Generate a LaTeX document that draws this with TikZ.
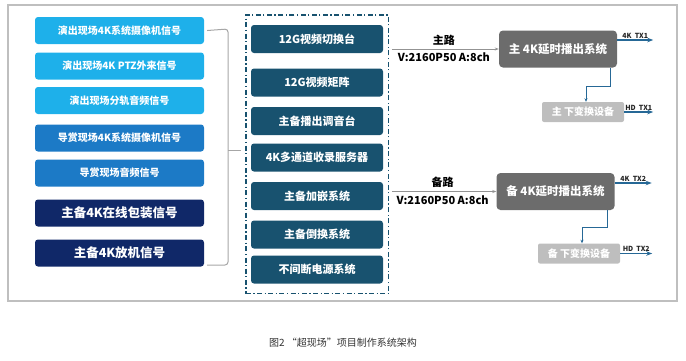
\documentclass[tikz,border=0pt]{standalone}
\usepackage{fontspec}
\setmainfont{Noto Sans CJK SC}
\usetikzlibrary{arrows.meta,positioning,fit}
\definecolor{srclight}{RGB}{30,176,234}
\definecolor{srcmid}{RGB}{28,122,198}
\definecolor{srcdark}{RGB}{16,40,104}
\definecolor{devcolor}{RGB}{24,82,111}
\definecolor{delaygray}{RGB}{108,108,108}
\definecolor{convgray}{RGB}{190,190,190}
\definecolor{linkblue}{RGB}{38,104,150}

\begin{document}
\begin{tikzpicture}[
			x=1pt,y=-1pt,
			srcbox/.style={
				rounded corners=3pt,
				text=white,
				align=center,
				minimum width=169pt,
				minimum height=27pt,
				inner sep=2pt,
				font=\bfseries\fontsize{10}{12}\selectfont
			},
			devbox/.style={
				fill=devcolor,
				rounded corners=3pt,
				text=white,
				minimum width=132pt,
				minimum height=28pt,
				inner sep=2pt,
				font=\bfseries\fontsize{11}{13}\selectfont
			},
			delaybox/.style={
				fill=delaygray,
				rounded corners=4pt,
				text=white,
				minimum width=118pt,
				minimum height=37pt,
				font=\bfseries\fontsize{11.5}{13}\selectfont
			},
			convbox/.style={
				fill=convgray,
				rounded corners=2pt,
				text=white,
				minimum width=82pt,
				minimum height=20pt,
				inner sep=1pt,
				font=\bfseries\fontsize{10}{12}\selectfont
			},
			feedarrow/.style={
				-{Stealth[length=4pt,width=3pt]},
				draw=gray!85,
				line width=0.9pt
			},
			outarrow/.style={
				-{Stealth[length=6pt,width=4.5pt]},
				draw=linkblue,
				line width=1.3pt
			},
			txlabel/.style={
				font=\bfseries\fontsize{7}{8}\selectfont,
				inner sep=1pt,
				text=black!85
			}
			]
			
			% Outer frame
			\useasboundingbox (0,0) rectangle (686,360);
			\draw[gray!50,line width=1.2pt] (8,5) rectangle (677,301);
			
			% Signal sources
			\node[srcbox,fill=srclight] (s1) at (119.5,30.5) {演出现场4K系统摄像机信号};
			\node[srcbox,fill=srclight] (s2) at (119.5,66) {演出现场4K PTZ外来信号};
			\node[srcbox,fill=srclight] (s3) at (119.5,100.5) {演出现场分轨音频信号};
			\node[srcbox,fill=srcmid] (s4) at (119.5,138) {导赏现场4K系统摄像机信号};
			\node[srcbox,fill=srcmid] (s5) at (119.5,173) {导赏现场音频信号};
			\node[srcbox,fill=srcdark,font=\bfseries\fontsize{12.5}{14}\selectfont] (s6) at (119.5,213) {主备4K在线包装信号};
			\node[srcbox,fill=srcdark,font=\bfseries\fontsize{12.5}{14}\selectfont] (s7) at (119.5,253) {主备4K放机信号};
			
			% Devices
			\node[devbox] (d1) at (317,39) {12G视频切换台};
			\node[devbox] (d2) at (317,82.5) {12G视频矩阵};
			\node[devbox] (d3) at (317,121) {主备播出调音台};
			\node[devbox] (d4) at (317,157.5) {4K多通道收录服务器};
			\node[devbox] (d5) at (317,196) {主备加嵌系统};
			\node[devbox] (d6) at (317,234.5) {主备倒换系统};
			\node[devbox] (d7) at (317,269.5) {不间断电源系统};
			
			\node[draw=devcolor,line width=1.4pt,dash pattern=on 5pt off 2.5pt on 1.2pt off 2.5pt,inner xsep=5pt,inner ysep=10pt,fit=(d1)(d7)] (devgroup) {};
			
			% Bracket
			\draw[gray!70,line width=1pt,rounded corners=3pt]
			([xshift=3pt]s1.east) -- (228,29) -- (228,265) -- ([xshift=3pt]s7.east |- 0,265);
			\draw[gray!70,line width=1pt]
			(228,150) -- ([xshift=-4pt]devgroup.west |- 0,150);
			
			% Delay systems
			\node[delaybox] (mainplay) at (558,49) {主 4K延时播出系统};
			\node[delaybox] (backplay) at (555.5,191.5) {备 4K延时播出系统};
			
			\node[convbox] (mainconv) at (583,112) {主 下变换设备};
			\node[convbox] (backconv) at (579,253.5) {备 下变换设备};
			
			% Feeds
			\draw[feedarrow,shorten <=3pt]
			(devgroup.east |- mainplay.west) --
			node[above,font=\bfseries\fontsize{11}{12}\selectfont]{主路}
			node[below,font=\bfseries\fontsize{11}{12}\selectfont]{V:2160P50 A:8ch}
			(mainplay.west);
			
			\draw[feedarrow,shorten <=3pt]
			(devgroup.east |- backplay.west) --
			node[above,font=\bfseries\fontsize{11}{12}\selectfont]{备路}
			node[below,font=\bfseries\fontsize{11}{12}\selectfont]{V:2160P50 A:8ch}
			(backplay.west);
			
			% Down conversion
			\draw[outarrow,-{Stealth[length=3.5pt,width=3pt]},line width=0.8pt]
			([xshift=-7pt]mainplay.south east) -- ++(0,19) -| ([xshift=3pt]mainconv.north);
			\draw[outarrow,-{Stealth[length=3.5pt,width=3pt]},line width=0.8pt]
			([xshift=-7pt]backplay.south east) -- ++(0,17) -| ([xshift=3pt]backconv.north);
			
			% Outputs
			\draw[outarrow] ([yshift=9pt]mainplay.east) -- ++(36,0)
			node[midway,above,txlabel]{4K\ \ TX1};
			\draw[outarrow] (mainconv.east) -- ++(29,0)
			node[midway,above,txlabel]{HD\ \ TX1};
			\draw[outarrow] ([yshift=8.5pt]backplay.east) -- ++(37,0)
			node[midway,above,txlabel]{4K\ \ TX2};
			\draw[outarrow] (backconv.east) -- ++(32,0)
			node[midway,above,txlabel]{HD\ \ TX2};
			
			% Caption
			\node[font=\fontsize{10}{12}\selectfont,text=black!80] (caption) at (343,343) {图2 “超现场”项目制作系统架构};
			
		\end{tikzpicture}
\end{document}
